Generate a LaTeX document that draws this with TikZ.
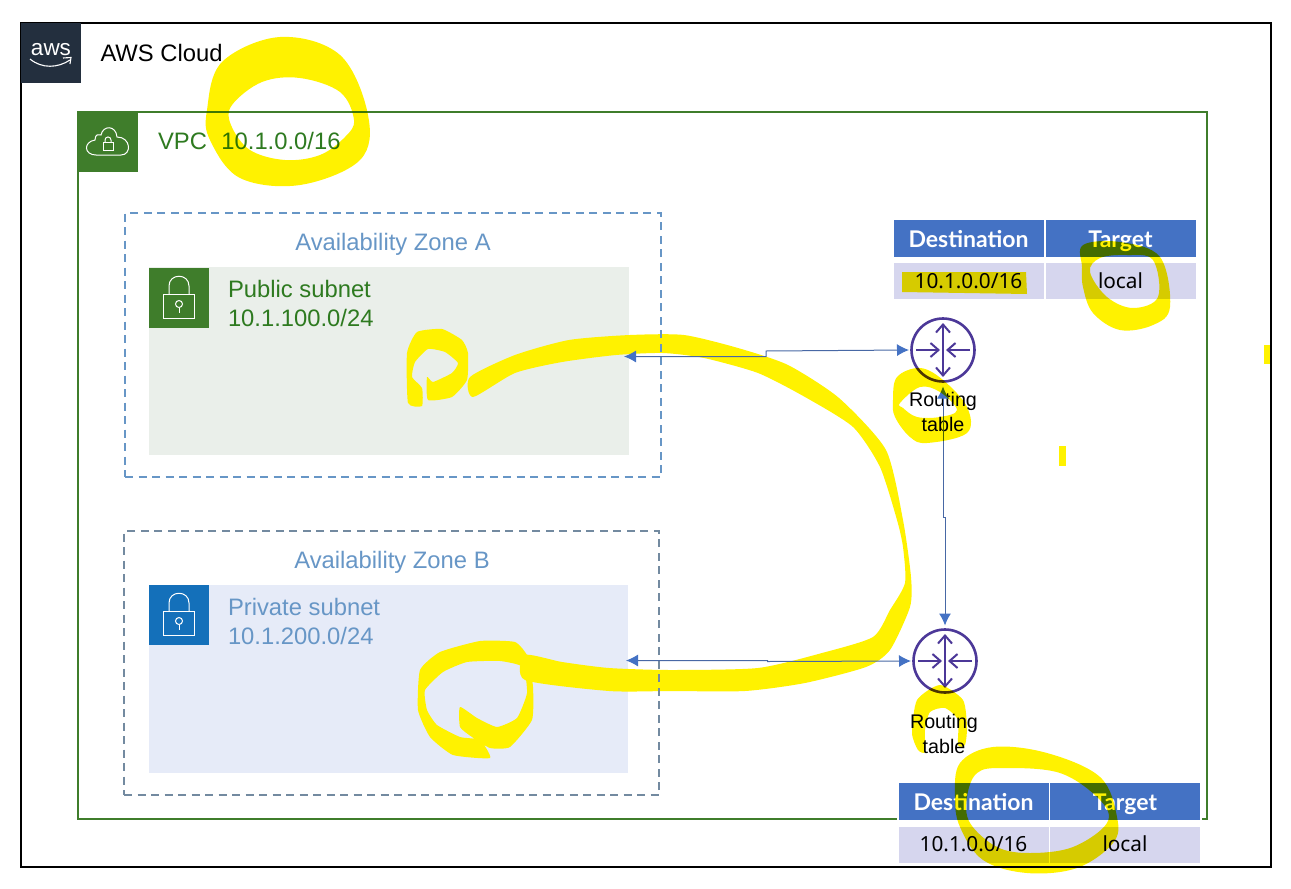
\documentclass[tikz,border=0pt]{standalone}
\usepackage{fontspec}
\setmainfont{Liberation Sans}
\newfontfamily\tablefont{Noto Sans}
\newfontfamily\headfont{Lato}
\usepackage{xcolor}
\usepackage{tikz}
\usetikzlibrary{arrows.meta, positioning}
\definecolor{awsdark}{RGB}{35,47,62}
\definecolor{vpcgreen}{RGB}{63,125,43}
\definecolor{textgreen}{RGB}{46,122,32}
\definecolor{zoneblue}{RGB}{103,150,198}
\definecolor{zonegray}{RGB}{115,138,160}
\definecolor{pubfill}{RGB}{234,239,234}
\definecolor{privfill}{RGB}{230,235,248}
\definecolor{privblue}{RGB}{20,112,186}
\definecolor{headblue}{RGB}{68,114,196}
\definecolor{rowfill}{RGB}{214,214,238}
\definecolor{routerpurple}{RGB}{76,56,152}
\definecolor{linkblue}{RGB}{72,104,165}
\definecolor{markeryellow}{RGB}{255,242,0}

\begin{document}
\begin{tikzpicture}[
    x=1pt, y=-1pt,
    every node/.style={inner sep=0pt, outer sep=0pt},
    frame/.style={draw=#1, anchor=center},
    zone/.style={draw=#1, line width=1.4pt, dash pattern=on 8pt off 5.5pt},
    icon/.style={fill=#1, minimum width=60, minimum height=60},
    boxtext/.style={font=\fontsize{23.8}{29}\selectfont, text=#1, align=left},
    headcell/.style={draw=white, line width=1.5pt, fill=headblue, text=white, minimum width=151.5, minimum height=38.5, text height=18pt, text depth=0pt, font=\headfont\fontsize{23}{26}\selectfont\bfseries},
    rowcell/.style={draw=white, line width=1.5pt, fill=rowfill, minimum width=151.5, minimum height=37.5, text height=17pt, text depth=3pt, font=\tablefont\fontsize{20.8}{25}\selectfont},
    router/.style={circle, draw=routerpurple, line width=2.6pt, minimum size=63},
    glyph/.style={draw=routerpurple, line width=2pt, -{Straight Barb[length=8pt, width=14pt, line width=2pt]}},
    rtlabel/.style={font=\fontsize{19.7}{24.5}\selectfont, align=center},
    link/.style={{Latex[length=12pt, width=12pt, color=headblue]}-{Latex[length=12pt, width=12pt, color=headblue]}, draw=linkblue, line width=1pt},
    stroke/.style={fill=markeryellow},
    marker/.style={fill=markeryellow, blend mode=multiply, even odd rule},
    lockicon/.pic={
        \draw[white, line width=1pt] (-15.5,-4) rectangle (15.5,20);
        \draw[white, line width=1pt] (-10,-4) -- (-10,-12) .. controls (-10,-25) and (10,-25) .. (10,-12) -- (10,-4);
        \draw[white, line width=1pt] (0,6) circle (3.5pt);
        \draw[white, line width=1pt] (0,9.5) -- (0,15);
    },
    cloudicon/.pic={
        \draw[white, line width=1pt] (-12,13) .. controls (-24,13) and (-25,0) .. (-13,-2) .. controls (-13,-8) and (-9,-8) .. (-7,-7) .. controls (-5,-17) and (8,-17) .. (9,-5) .. controls (23,-5) and (24,13) .. (13,13) -- cycle;
        \draw[white, line width=1pt] (-5,0) rectangle (5,8);
        \draw[white, line width=1pt] (-3,0) -- (-3,-2) .. controls (-3,-6) and (3,-6) .. (3,-2) -- (3,0);
    }
]
    \useasboundingbox (0,0) rectangle (1291,889);
    \node[frame=black, line width=2.4pt, minimum width=1250, minimum height=844] (cloud) at (646,445) {};
    \node[icon=awsdark] (awsicon) at (51,53) {};
    \node[text=white, font=\fontsize{22.5}{26}\selectfont, anchor=base] (awslogo) at (51,55) {aws};
    \draw[white, line width=1.1pt] (30,59) .. controls (42,69) and (58,68) .. (70,60);
    \draw[white, line width=1.1pt] (63,58) -- (71,57.5) -- (70,64);
    \node[boxtext=black, anchor=base west] (cloudlabel) at (100.5,61) {AWS Cloud};

    \node[frame=vpcgreen, line width=1.7pt, minimum width=1129, minimum height=707] (vpc) at (642.5,465.5) {};
    \node[icon=vpcgreen] (vpcicon) at (108,142) {};
    \pic at (vpcicon) {cloudicon};
    \node[boxtext=textgreen, anchor=base west] (vpclabel) at (158,149) {VPC\hspace{14.5pt}10.1.0.0/16};

    \node[fill=pubfill, minimum width=480, minimum height=188] (pubnet) at (389,361) {};
    \node[fill=privfill, minimum width=479, minimum height=188] (privnet) at (388.5,679) {};

    \fill[stroke] plot[smooth cycle, tension=.3] coordinates {(422,406) (408,403) (407,353) (417,332) (442,329) (462,340) (468,353) (467,380) (452,397) (428,400) (427,377) (433,382) (452,373) (458,363) (445,352) (428,349) (415,362) (412,377) (422,388)};
    \fill[stroke] plot[smooth cycle, tension=.4] coordinates {(470,377) (515,355) (569,340) (630,335) (684,335) (738,348) (788,365) (839,398) (886,450) (903,520) (911,577) (910,607) (890,650) (866,667) (805,683) (745,691) (670,691) (609,691) (525,680) (525,655) (562,662) (609,668) (670,670) (758,668) (822,653) (873,637) (890,610) (905,583) (903,547) (897,520) (880,467) (853,427) (805,397) (758,373) (704,358) (663,353) (616,355) (562,362) (515,373) (473,397)};
    \fill[stroke] plot[smooth cycle, tension=.3] coordinates {(490,758) (453,755) (430,737) (418,710) (420,670) (440,652) (480,641) (515,642) (528,657) (533,687) (532,720) (510,747) (490,748) (472,737) (460,727) (460,707) (477,718) (497,727) (517,718) (527,693) (523,667) (500,661) (467,662) (443,672) (425,690) (427,710) (437,725) (460,737) (480,740)};

    \node[zone=zoneblue, minimum width=536, minimum height=264] (zonea) at (393,345) {};
    \node[boxtext=zoneblue, anchor=base] (zonealabel) at (393,250) {Availability Zone A};
    \node[icon=vpcgreen] (pubicon) at (179,298) {};
    \pic at (pubicon) {lockicon};
    \node[boxtext=textgreen, anchor=north west] (publabel) at (228,280) {Public subnet\\10.1.100.0/24};

    \node[zone=zonegray, minimum width=535, minimum height=264] (zoneb) at (391.5,663) {};
    \node[boxtext=zoneblue, anchor=base] (zoneblabel) at (392,568) {Availability Zone B};
    \node[icon=privblue] (privicon) at (179,615) {};
    \pic at (privicon) {lockicon};
    \node[boxtext=zoneblue, anchor=north west] (privlabel) at (228,598) {Private subnet\\10.1.200.0/24};

    \node[headcell] (desta) at (968.5,238.5) {Destination};
    \node[headcell] (targa) at (1120.5,238.5) {Target};
    \node[rowcell] (cidra) at (968.5,281) {10.1.0.0/16};
    \node[rowcell] (locala) at (1120.5,281) {local};
    \node[headcell] (destb) at (973.5,801.5) {Destination};
    \node[headcell] (targb) at (1125,801.5) {Target};
    \node[rowcell] (cidrb) at (973.5,844.5) {10.1.0.0/16};
    \node[rowcell] (localb) at (1125,844.5) {local};

    \node[router] (rta) at (943,350) {};
    \node[router] (rtb) at (945,661) {};
    \foreach \rt in {rta,rtb} {
        \draw[glyph] ([xshift=-27pt]\rt.center) -- ([xshift=-3pt]\rt.center);
        \draw[glyph] ([xshift=27pt]\rt.center) -- ([xshift=3pt]\rt.center);
        \draw[glyph] (\rt.center) -- ([yshift=27pt]\rt.center);
        \draw[glyph] (\rt.center) -- ([yshift=-27pt]\rt.center);
    }
    \node[rtlabel] (rtalabel) at (943,412) {Routing\\table};
    \node[rtlabel] (rtblabel) at (944,734) {Routing\\table};

    \coordinate (puba) at (624,356.5);
    \coordinate (elbowa) at (766,351);
    \coordinate (privb) at (626,660.5);
    \coordinate (elbowb) at (767.5,661.5);
    \coordinate (elbowc) at (945,517);
    \draw[link] (puba) -| (elbowa) -- ([xshift=-2.5pt]rta.west);
    \draw[link] (privb) -| (elbowb) -- ([xshift=-2.5pt]rtb.west);
    \draw[link] ([yshift=-5pt]rta.south) |- (elbowc) -- ([yshift=4pt]rtb.north);

    \fill[marker] plot[smooth cycle, tension=.6] coordinates {(207,110) (222,62) (280,37) (340,55) (368,115) (360,160) (300,185) (240,178) (210,140)}
        plot[smooth cycle, tension=.6] coordinates {(232,105) (262,82) (300,78) (340,92) (354,120) (345,137) (320,155) (285,160) (250,150) (231,125)};
    \fill[marker] (902,272) -- (1026,272) -- (1027,294) -- (902,292) -- cycle;
    \fill[marker] plot[smooth cycle, tension=.6] coordinates {(1082,267) (1083,245) (1120,242) (1160,257) (1170,307) (1153,325) (1120,330) (1093,313) (1083,287)}
        plot[smooth cycle, tension=.6] coordinates {(1090,272) (1100,258) (1127,255) (1153,260) (1158,297) (1133,308) (1107,297)};
    \fill[marker] plot[smooth cycle, tension=.6] coordinates {(893,400) (897,377) (920,368) (943,380) (967,407) (967,433) (927,443) (910,437) (895,417)}
        plot[smooth cycle, tension=.6] coordinates {(900,403) (920,387) (940,392) (957,410) (940,417) (917,417) (903,408)};
    \fill[marker] plot[smooth cycle, tension=.4] coordinates {(912,733) (917,700) (940,685) (963,700) (967,727) (965,745) (958,745) (958,720) (945,708) (930,712) (925,730) (925,752) (918,750)};
    \fill[marker] plot[smooth cycle, tension=.6] coordinates {(955,797) (960,763) (993,747) (1047,753) (1100,777) (1117,817) (1113,843) (1077,868) (1027,873) (983,860) (960,827)}
        plot[smooth cycle, tension=.6] coordinates {(967,797) (977,773) (1003,768) (1060,773) (1100,800) (1107,823) (1073,847) (1030,853) (997,847) (970,823)};
    \fill[marker] (1264,345) rectangle (1270,364);
    \fill[marker] (1059,446) rectangle (1066,466);
\end{tikzpicture}
\end{document}
